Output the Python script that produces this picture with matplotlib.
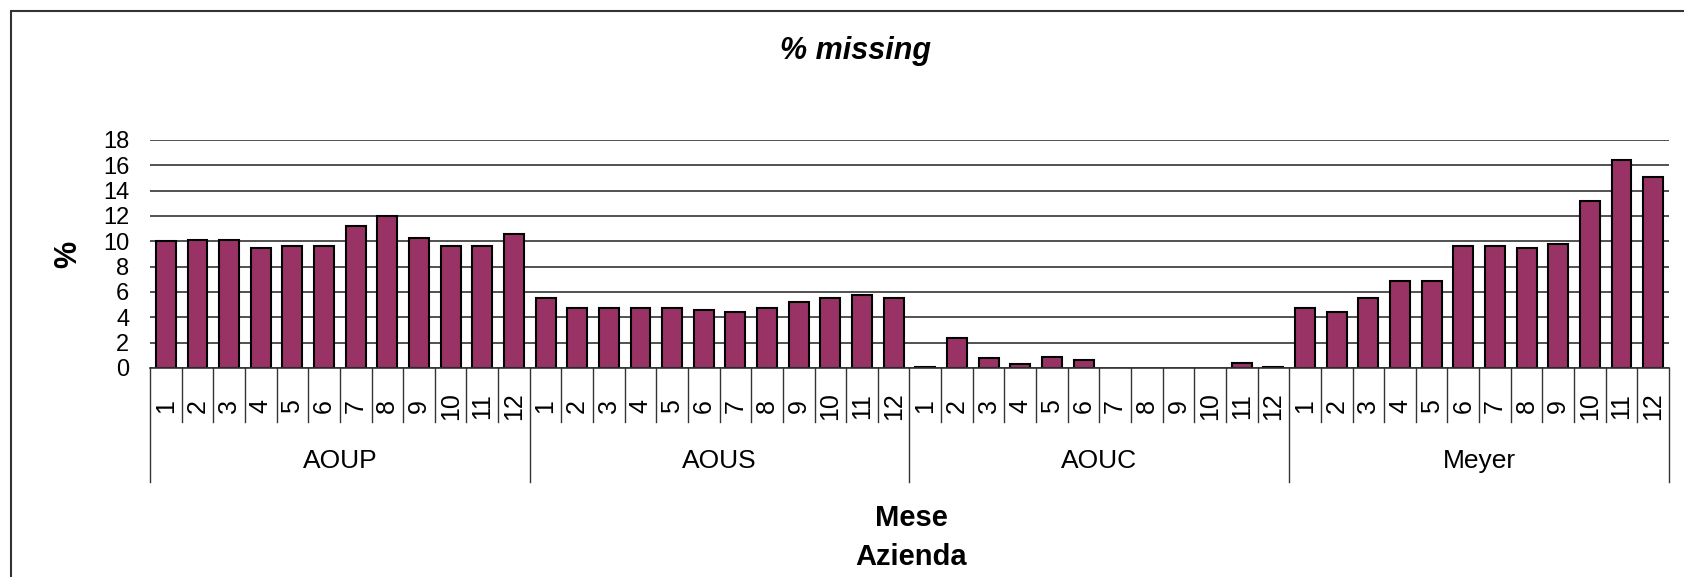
import matplotlib
matplotlib.use("Agg")
import matplotlib.pyplot as plt
from matplotlib.patches import Rectangle
import numpy as np

plt.rcParams['font.family'] = ['Liberation Sans', 'DejaVu Sans']

months = [str(m) for m in range(1, 13)]
groups = ["AOUP", "AOUS", "AOUC", "Meyer"]
aoup = [10.0, 10.1, 10.1, 9.5, 9.6, 9.6, 11.2, 12.0, 10.3, 9.6, 9.6, 10.6]
aous = [5.5, 4.7, 4.7, 4.7, 4.7, 4.6, 4.4, 4.7, 5.2, 5.5, 5.8, 5.5]
aouc = [0.1, 2.4, 0.8, 0.3, 0.9, 0.6, 0.0, 0.0, 0.0, 0.0, 0.4, 0.1]
meyer = [4.7, 4.4, 5.5, 6.9, 6.9, 9.6, 9.6, 9.5, 9.8, 13.2, 16.4, 15.1]
yticks = [0, 2, 4, 6, 8, 10, 12, 14, 16, 18]

values = aoup + aous + aouc + meyer
n = len(values)
x = np.arange(n)

W, H = 1684, 577
fig = plt.figure(figsize=(W / 100, H / 100), dpi=100)
fig.patch.set_facecolor('white')

ax_left, ax_right, ax_top, ax_bot = 150, 1669, 140, 368
ax = fig.add_axes([ax_left / W, 1 - ax_bot / H, (ax_right - ax_left) / W, (ax_bot - ax_top) / H])

lws = [1.5 if v > 0 else 0 for v in values]
ax.bar(x, values, width=0.63, color='#993366', edgecolor='black', linewidth=lws, zorder=3)
ax.set_xlim(-0.5, n - 0.5)
ax.set_ylim(0, 18)
ax.set_yticks(yticks)
ax.set_yticklabels([str(t) for t in yticks], fontsize=17)
ax.tick_params(axis='y', length=0, pad=15)
ax.yaxis.grid(True, color='#333333', linewidth=1.2, zorder=0)
ax.set_axisbelow(True)
ax.set_xticks([])
for s in ['left', 'right', 'top']:
    ax.spines[s].set_visible(False)
ax.spines['bottom'].set_color('#333333')
ax.spines['bottom'].set_linewidth(1.2)
ax.spines['bottom'].set_zorder(4)

axh = ax_bot - ax_top
def yf(ypx):
    return (ax_bot - ypx) / axh

trans = ax.get_xaxis_transform()
# month separators
for k in range(n + 1):
    is_group = (k % 12 == 0)
    yend = yf(482) if is_group else yf(422)
    ax.plot([k - 0.5, k - 0.5], [0, yend], color='#333333', linewidth=1.0,
            transform=trans, clip_on=False)
# month labels
for i in range(n):
    ax.text(x[i], yf(406), months[i % 12], rotation=90, ha='center', va='center',
            fontsize=18, transform=trans)
# group labels
for g, name in enumerate(groups):
    ax.text(g * 12 + 5.5, yf(461), name, ha='center', va='center', fontsize=19,
            transform=trans)

fig.text(856 / W, 1 - 51 / H, "% missing", ha='center', va='center', fontsize=22,
         fontweight='bold', fontstyle='italic')
fig.text(68 / W, 1 - 254 / H, "%", ha='center', va='center', fontsize=22,
         fontweight='bold', rotation=90)
fig.text(911 / W, 1 - 518 / H, "Mese", ha='center', va='center', fontsize=21,
         fontweight='bold')
fig.text(911 / W, 1 - 557 / H, "Azienda", ha='center', va='center', fontsize=21,
         fontweight='bold')

fig.patches.append(Rectangle((11 / W, -0.1), 2, (H - 11) / H + 0.1, fill=False,
                             edgecolor='#333333', linewidth=1.5,
                             transform=fig.transFigure))

fig.savefig("out.png", dpi=100)
